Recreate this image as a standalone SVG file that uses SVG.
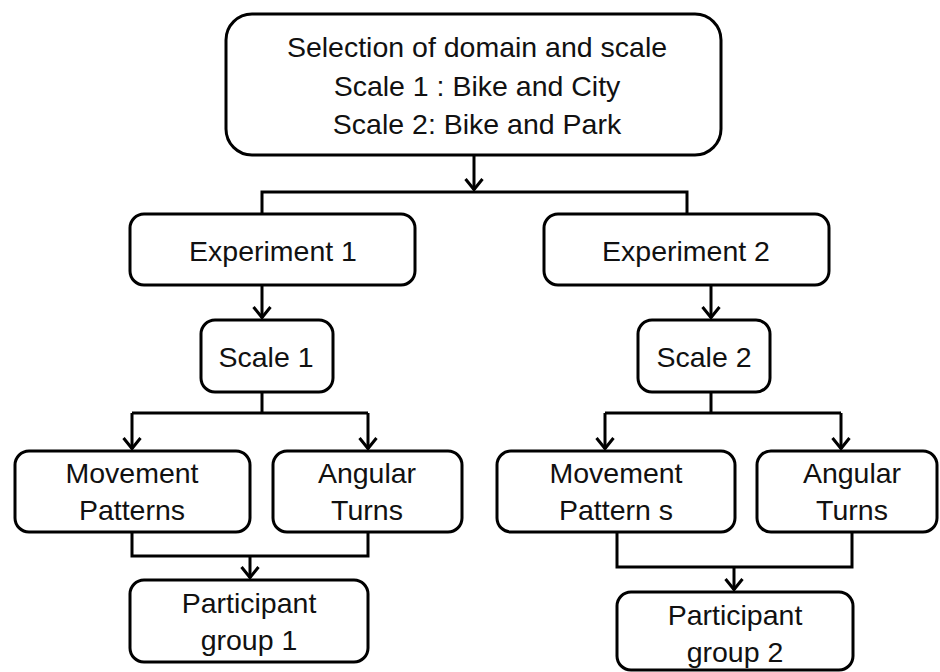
<svg xmlns="http://www.w3.org/2000/svg" width="940" height="672" viewBox="0 0 940 672">
  <defs>
    <style>
      .box { fill: #ffffff; stroke: #000000; stroke-width: 3; }
      .lbl { font-family: "Liberation Sans", Arial, sans-serif; font-size: 28.5px; fill: #111111; text-anchor: middle; }
      .wire { fill: none; stroke: #000000; stroke-width: 3; }
    </style>
    <marker id="arrow" viewBox="0 0 14 20" refX="12.5" refY="10" markerWidth="14" markerHeight="20" markerUnits="userSpaceOnUse" orient="auto">
      <path d="M1.5,1.5 L12,10 L1.5,18.5" fill="none" stroke="#000000" stroke-width="3" stroke-linejoin="miter"/>
    </marker>
  </defs>
  <rect width="940" height="672" fill="#ffffff"/>

  <g id="connectors">
    <!-- top box to the branch bar -->
    <line class="wire" x1="474" y1="155" x2="474" y2="190" marker-end="url(#arrow)"/>
    <polyline class="wire" points="262,214 262,192 687,192 687,214"/>
    <!-- experiments to scales -->
    <line class="wire" x1="262" y1="285" x2="262" y2="318" marker-end="url(#arrow)"/>
    <line class="wire" x1="711" y1="285" x2="711" y2="318" marker-end="url(#arrow)"/>
    <!-- scale 1 split -->
    <line class="wire" x1="262" y1="392" x2="262" y2="413"/>
    <line class="wire" x1="132" y1="413" x2="368" y2="413"/>
    <line class="wire" x1="132" y1="413" x2="132" y2="449" marker-end="url(#arrow)"/>
    <line class="wire" x1="368" y1="413" x2="368" y2="449" marker-end="url(#arrow)"/>
    <!-- scale 2 split -->
    <line class="wire" x1="711" y1="392" x2="711" y2="413"/>
    <line class="wire" x1="605" y1="413" x2="841" y2="413"/>
    <line class="wire" x1="605" y1="413" x2="605" y2="449" marker-end="url(#arrow)"/>
    <line class="wire" x1="841" y1="413" x2="841" y2="449" marker-end="url(#arrow)"/>
    <!-- merge into participant group 1 -->
    <polyline class="wire" points="132,532 132,556 368,556 368,532"/>
    <line class="wire" x1="250" y1="556" x2="250" y2="578" marker-end="url(#arrow)"/>
    <!-- merge into participant group 2 -->
    <polyline class="wire" points="617,532 617,567 852,567 852,532"/>
    <line class="wire" x1="734" y1="567" x2="734" y2="590" marker-end="url(#arrow)"/>
  </g>

  <g id="domain-scale">
    <rect class="box" x="226" y="14" width="495" height="141" rx="26"/>
    <text class="lbl" x="477" y="57">Selection of domain and scale</text>
    <text class="lbl" x="477" y="96">Scale 1 : Bike and City</text>
    <text class="lbl" x="477" y="134">Scale 2: Bike and Park</text>
  </g>

  <g id="experiment-1">
    <rect class="box" x="130" y="214" width="285" height="71" rx="14"/>
    <text class="lbl" x="273" y="261">Experiment 1</text>
  </g>

  <g id="experiment-2">
    <rect class="box" x="544" y="214" width="285" height="71" rx="14"/>
    <text class="lbl" x="686" y="261">Experiment 2</text>
  </g>

  <g id="scale-1">
    <rect class="box" x="201" y="320" width="132" height="72" rx="14"/>
    <text class="lbl" x="266" y="367">Scale 1</text>
  </g>

  <g id="scale-2">
    <rect class="box" x="638" y="320" width="132" height="72" rx="14"/>
    <text class="lbl" x="704" y="367">Scale 2</text>
  </g>

  <g id="movement-1">
    <rect class="box" x="15" y="451" width="235" height="81" rx="14"/>
    <text class="lbl" x="132" y="483">Movement</text>
    <text class="lbl" x="132" y="520">Patterns</text>
  </g>

  <g id="angular-1">
    <rect class="box" x="273" y="451" width="189" height="81" rx="14"/>
    <text class="lbl" x="367" y="483">Angular</text>
    <text class="lbl" x="367" y="520">Turns</text>
  </g>

  <g id="movement-2">
    <rect class="box" x="497" y="451" width="238" height="81" rx="14"/>
    <text class="lbl" x="616" y="483">Movement</text>
    <text class="lbl" x="616" y="520">Pattern s</text>
  </g>

  <g id="angular-2">
    <rect class="box" x="757" y="451" width="180" height="81" rx="14"/>
    <text class="lbl" x="852" y="483">Angular</text>
    <text class="lbl" x="852" y="520">Turns</text>
  </g>

  <g id="participant-1">
    <rect class="box" x="130" y="580" width="238" height="82" rx="14"/>
    <text class="lbl" x="249" y="613">Participant</text>
    <text class="lbl" x="249" y="650">group 1</text>
  </g>

  <g id="participant-2">
    <rect class="box" x="617" y="592" width="236" height="78" rx="14"/>
    <text class="lbl" x="735" y="625">Participant</text>
    <text class="lbl" x="735" y="662">group 2</text>
  </g>
</svg>
